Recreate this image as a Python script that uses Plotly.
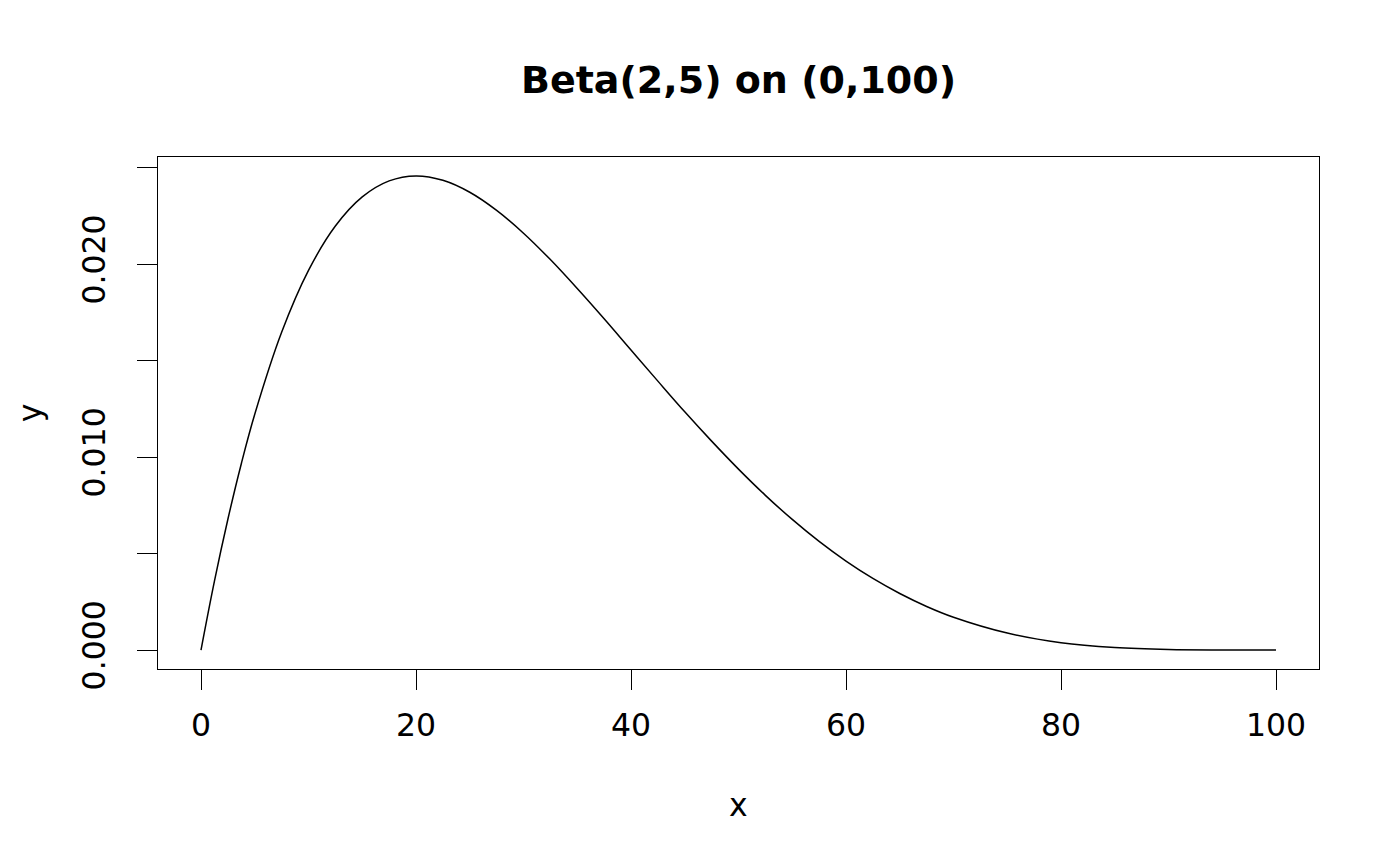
import plotly.graph_objects as go

# values
x_vals = [0, 1.25, 2.5, 3.75, 5, 7.5, 10, 12.5, 15, 17.5, 20, 22.5, 25,
          27.5, 30, 32.5, 35, 37.5, 40, 42.5, 45, 47.5, 50, 52.5, 55,
          57.5, 60, 62.5, 65, 67.5, 70, 75, 80, 85, 90, 95, 100]
y_vals = [0.0, 0.00357, 0.00678, 0.00966, 0.01222, 0.01647, 0.01968,
          0.02198, 0.02349, 0.02432, 0.02458, 0.02435, 0.02373, 0.02279,
          0.02161, 0.02024, 0.01874, 0.01717, 0.01555, 0.01394, 0.01235,
          0.01083, 0.00938, 0.00802, 0.00677, 0.00563, 0.00461, 0.00371,
          0.00293, 0.00226, 0.00170, 0.00088, 0.00038, 0.00013,
          0.000027, 0.000002, 0.0]

x_ticks = [0, 20, 40, 60, 80, 100]
y_ticks = [0.0, 0.005, 0.010, 0.015, 0.020, 0.025]
y_tick_text = ["0.000", "", "0.010", "", "0.020", ""]

font = "DejaVu Sans"
tick_size = 31.5

fig = go.Figure()
fig.add_trace(
    go.Scatter(
        x=x_vals,
        y=y_vals,
        mode="lines",
        line=dict(color="black", width=1.5, shape="spline", smoothing=1.0),
        showlegend=False,
    )
)

axis_style = dict(
    showline=True,
    linecolor="black",
    linewidth=1.3,
    mirror=True,
    showgrid=False,
    zeroline=False,
    ticks="outside",
    ticklen=20,
    tickwidth=1.3,
    tickcolor="black",
    tickfont=dict(family=font, size=tick_size, color="black"),
)

fig.update_xaxes(
    range=[-4, 104],
    tickvals=x_ticks,
    ticklabelstandoff=8,
    **axis_style,
)
fig.update_yaxes(
    range=[-0.000983, 0.025559],
    tickvals=y_ticks,
    ticktext=y_tick_text,
    tickangle=-90,
    ticklabelstandoff=19,
    **axis_style,
)

# page body adds an 8px offset, so positions below are shifted by it
fig.add_annotation(
    text="x", xref="paper", yref="paper", x=0.5, y=-0.265,
    showarrow=False, yanchor="middle",
    font=dict(family=font, size=tick_size, color="black"),
)
fig.add_annotation(
    text="y", xref="paper", yref="paper", x=-0.11, y=0.5,
    showarrow=False, textangle=-90, xanchor="center",
    font=dict(family=font, size=tick_size, color="black"),
)

fig.update_layout(
    width=1400,
    height=866,
    margin=dict(l=150, r=89, t=149, b=205),
    plot_bgcolor="white",
    paper_bgcolor="white",
    title=dict(
        text="<b>Beta(2,5) on (0,100)</b>",
        x=0.5,
        xref="paper",
        y=1 - 72 / 866,
        yref="container",
        yanchor="middle",
        font=dict(family=font, size=38, color="black"),
    ),
)

fig.write_html("out.html")
